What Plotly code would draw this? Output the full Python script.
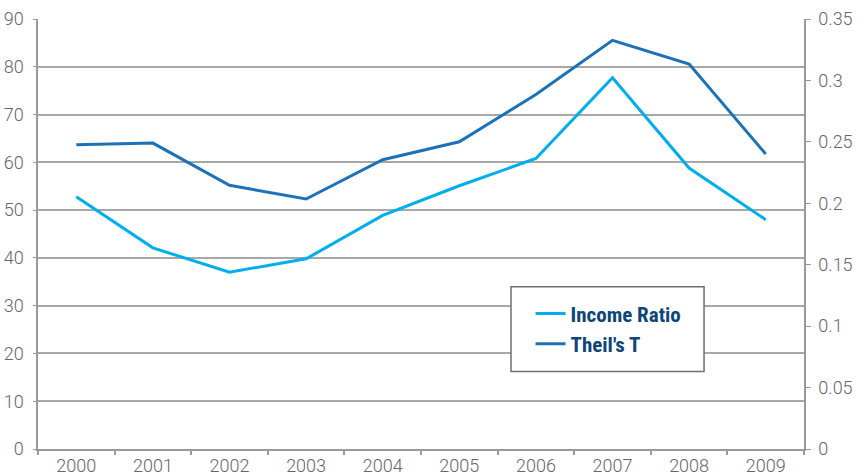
import plotly.graph_objects as go

years = ["2000", "2001", "2002", "2003", "2004", "2005", "2006", "2007", "2008", "2009"]
income_ratio = [52.8, 42.1, 37.0, 39.8, 48.9, 55.1, 60.8, 77.7, 58.8, 48.0]
theils_t = [0.2477, 0.2490, 0.2146, 0.2035, 0.2355, 0.2501, 0.2885, 0.3326, 0.3133, 0.2401]

left_ticks = [0, 10, 20, 30, 40, 50, 60, 70, 80, 90]
right_ticks = [0, 0.05, 0.1, 0.15, 0.2, 0.25, 0.3, 0.35]
right_labels = ["0", "0.05", "0.1", "0.15", "0.2", "0.25", "0.3", "0.35"]

tick_font = dict(family="Roboto, Liberation Sans, sans-serif", size=18, color="#666666", weight=300)
axis_col = "#9a9a9a"

fig = go.Figure()
fig.add_trace(go.Scatter(x=years, y=income_ratio, name="Income Ratio", mode="lines",
                         line=dict(color="#00aeef", width=3), yaxis="y"))
fig.add_trace(go.Scatter(x=years, y=theils_t, name="Theil's T", mode="lines",
                         line=dict(color="#1c72b8", width=3), yaxis="y2"))

fig.update_layout(
    width=867, height=475,
    margin=dict(l=38, r=63, t=19, b=26, autoexpand=False),
    paper_bgcolor="white", plot_bgcolor="white",
    showlegend=True,
    legend=dict(x=0.643, y=0.362, xanchor="left", yanchor="top",
                bgcolor="rgba(0,0,0,0)", borderwidth=0,
                font=dict(family="Roboto Condensed, Liberation Sans Narrow, Roboto, sans-serif",
                          size=21, color="#0e4677", weight="bold"),
                tracegroupgap=0, itemwidth=30),
    xaxis=dict(type="category", tickson="boundaries", ticks="outside", ticklen=4,
               tickcolor=axis_col, tickwidth=1.5, showline=True, linecolor=axis_col, linewidth=1.5,
               showgrid=False, tickfont=tick_font, range=[-0.5, 9.5], fixedrange=True,
               automargin=False),
    yaxis=dict(range=[0, 90], tickvals=left_ticks, showgrid=True, gridcolor="#a8a8a8", gridwidth=1.5,
               showline=True, linecolor=axis_col, linewidth=1.5, ticks="outside", ticklen=3,
               tickcolor=axis_col, tickfont=tick_font, zeroline=False, ticklabelstandoff=6,
               automargin=False),
    yaxis2=dict(range=[0, 0.35], tickvals=right_ticks, ticktext=right_labels, overlaying="y",
                side="right", showgrid=False, showline=True, linecolor=axis_col, linewidth=1.5,
                ticks="outside", ticklen=5, tickcolor=axis_col, tickfont=tick_font, zeroline=False,
                ticklabelstandoff=4, automargin=False),
    shapes=[dict(type="rect", xref="paper", yref="paper", x0=0.6175, x1=0.8695, y0=0.18, y1=0.3775,
                 fillcolor="white", line=dict(color="#6f6f6f", width=1.5), layer="above")],
)

fig.write_html("out.html", config={"displayModeBar": False},
               post_script="document.body.style.margin='0';document.body.style.overflow='hidden';")
